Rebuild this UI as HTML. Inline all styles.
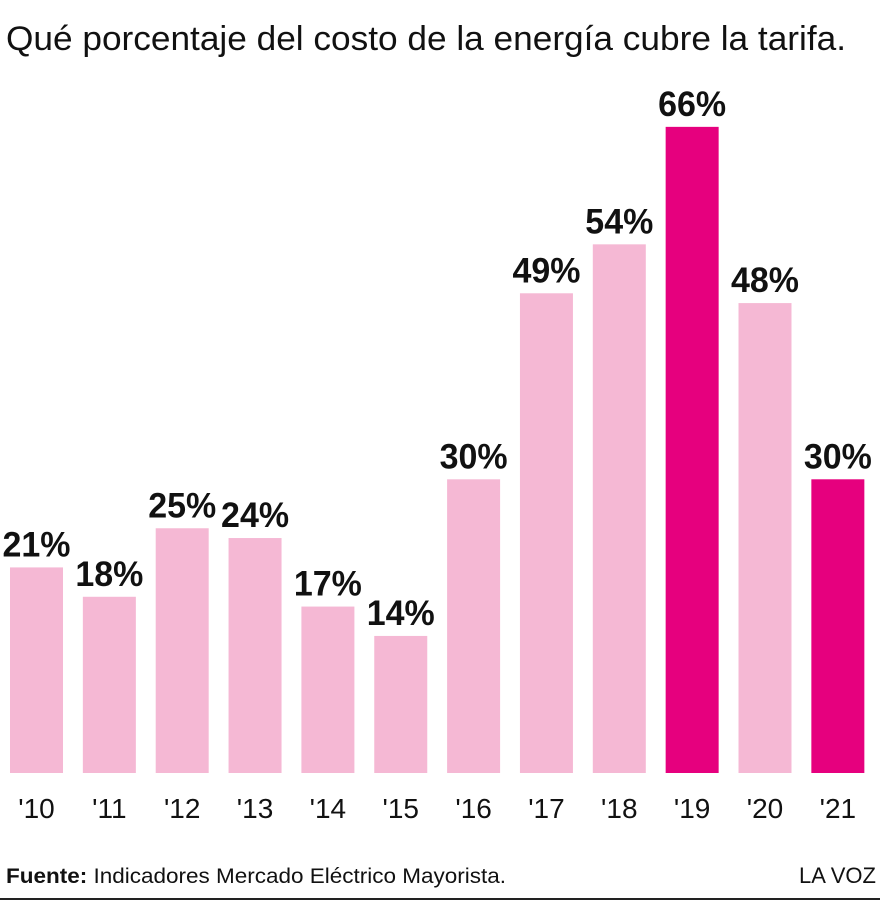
<!DOCTYPE html>
<html><head><meta charset="utf-8"><style>
html,body{margin:0;padding:0;background:#fff;width:880px;height:905px;overflow:hidden;font-family:"Liberation Sans",sans-serif;}
</style></head><body>
<svg width="880" height="905" xmlns="http://www.w3.org/2000/svg">
<text x="6" y="50" font-size="34" fill="#111" textLength="840" lengthAdjust="spacingAndGlyphs">Qué porcentaje del costo de la energía cubre la tarifa.</text>
<g id="bars"></g>
<text x="6" y="883" font-size="21" fill="#111" textLength="500" lengthAdjust="spacingAndGlyphs"><tspan font-weight="bold">Fuente:</tspan> Indicadores Mercado Eléctrico Mayorista.</text>
<text x="876" y="883" font-size="22" fill="#111" text-anchor="end">LA VOZ</text>
<line x1="0" y1="899" x2="880" y2="899" stroke="#222" stroke-width="2"/>
</svg>
<script>
const categories=["'10","'11","'12","'13","'14","'15","'16","'17","'18","'19","'20","'21"];
const values=[21,18,25,24,17,14,30,49,54,66,48,30];
const highlighted=[false,false,false,false,false,false,false,false,false,true,false,true];
const base=773,pxPer=9.79,x0=10,step=72.85,bw=53;
const y=v=>base-v*pxPer;
const xs=i=>x0+i*step;
const g=document.getElementById('bars');
const NS='http://www.w3.org/2000/svg';
values.forEach((v,i)=>{
 const r=document.createElementNS(NS,'rect');
 r.setAttribute('x',xs(i));r.setAttribute('y',y(v));r.setAttribute('width',bw);r.setAttribute('height',base-y(v));
 r.setAttribute('fill',highlighted[i]?'#e6007e':'#f5b8d4');
 
 
 g.appendChild(r);
 const t=document.createElementNS(NS,'text');
 t.setAttribute('x',xs(i)+bw/2);t.setAttribute('y',y(v)-11);t.setAttribute('text-anchor','middle');
 t.setAttribute('font-size','35');t.setAttribute('font-weight','bold');t.setAttribute('fill','#111');
 t.setAttribute('textLength','68');t.setAttribute('lengthAdjust','spacingAndGlyphs');
 t.textContent=v+'%';
 
 
 g.appendChild(t);
 const c=document.createElementNS(NS,'text');
 c.setAttribute('x',xs(i)+bw/2);c.setAttribute('y',818);c.setAttribute('text-anchor','middle');
 c.setAttribute('font-size','28');c.setAttribute('fill','#111');
 c.textContent=categories[i];
 
 
 g.appendChild(c);
});
</script>
</body></html>
